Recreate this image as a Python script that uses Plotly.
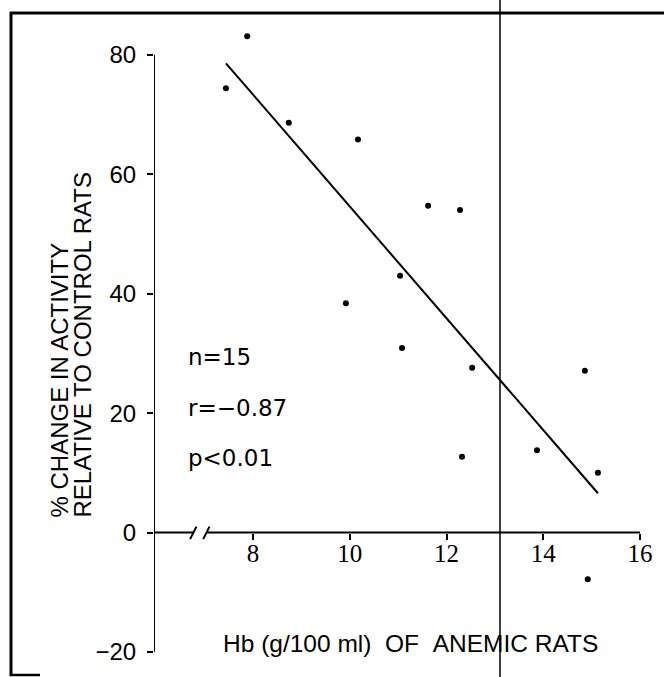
import numpy as np
import plotly.graph_objects as go

# Hemoglobin of anemic rats (g/100 ml) vs. % change in activity relative to controls
hb = [7.44, 7.88, 8.74, 10.17, 9.92, 11.04, 11.08, 11.62, 12.28,
      12.53, 12.32, 13.87, 14.86, 15.13, 14.92]
change = [74.4, 83.1, 68.6, 65.8, 38.4, 43.0, 30.9, 54.7, 54.0,
          27.6, 12.7, 13.8, 27.1, 10.0, -7.8]

x_ticks = [8, 10, 12, 14, 16]
y_ticks = [-20, 0, 20, 40, 60, 80]
stats_lines = ["n=15", "r=\u22120.87", "p<0.01"]

x_title = "Hb (g/100\u00a0ml)\u00a0\u00a0OF\u00a0\u00a0ANEMIC RATS"
y_title_1 = "% CHANGE IN ACTIVITY"
y_title_2 = "RELATIVE TO CONTROL RATS"

# least-squares regression line over the observed Hb range
slope, intercept = np.polyfit(hb, change, 1)
fit_x = np.array([min(hb), max(hb)])
fit_y = slope * fit_x + intercept

W, H = 664, 677
ML, MR, MT, MB = 154, 24, 7, 25
XR = [5.953, 16.0]
YR = [-20, 88]          # headroom above 80 so the top point is not culled
Y_AXIS_SPAN = [-20, 80]  # drawn extent of the y axis line


def px(xp):
    return (xp - ML) / (W - ML - MR)


def py(yp):
    return (H - MB - yp) / (H - MT - MB)


BLACK = "#000000"
sans = "Liberation Sans, Arial, Helvetica, sans-serif"
serif = "Liberation Serif, Times New Roman, serif"
stat_font = "DejaVu Sans, Verdana, sans-serif"

fig = go.Figure()

line_style = dict(color=BLACK, width=2)

# y axis line from -20 to 80
fig.add_trace(go.Scatter(x=[XR[0], XR[0]], y=Y_AXIS_SPAN, mode="lines",
                         line=line_style, cliponaxis=False,
                         hoverinfo="skip", showlegend=False))

# x axis line drawn at y = 0 with a scale break near the origin
fig.add_trace(go.Scatter(x=[XR[0], 6.78], y=[0, 0], mode="lines",
                         line=line_style, cliponaxis=False,
                         hoverinfo="skip", showlegend=False))
fig.add_trace(go.Scatter(x=[7.05, XR[1]], y=[0, 0], mode="lines",
                         line=line_style, cliponaxis=False,
                         hoverinfo="skip", showlegend=False))
for x0, x1 in [(6.70, 6.83), (6.97, 7.10)]:
    fig.add_shape(type="line", xref="x", yref="y", x0=x0, y0=-1.1, x1=x1, y1=1.0,
                  line=dict(color=BLACK, width=2))

# regression line
fig.add_trace(go.Scatter(x=fit_x, y=fit_y, mode="lines",
                         line=line_style, cliponaxis=False,
                         hoverinfo="skip", showlegend=False))

# individual rats
fig.add_trace(go.Scatter(x=hb, y=change, mode="markers",
                         marker=dict(color=BLACK, size=6), cliponaxis=False,
                         showlegend=False))

# statistics block
for i, s in enumerate(stats_lines):
    fig.add_annotation(text=s, xref="paper", yref="paper",
                       x=px(186), y=py(357 + 50.5 * i),
                       xanchor="left", yanchor="middle", showarrow=False,
                       font=dict(family=stat_font, size=23, color=BLACK))

# axis titles
fig.add_annotation(text=x_title, xref="paper", yref="paper",
                   x=px(221), y=py(643), xanchor="left", yanchor="middle",
                   showarrow=False, font=dict(family=sans, size=24.5, color=BLACK))
for txt, xc in [(y_title_1, 59), (y_title_2, 82)]:
    fig.add_annotation(text=txt, xref="paper", yref="paper", textangle=-90,
                       x=px(xc), y=py(520), xanchor="center", yanchor="bottom",
                       showarrow=False, font=dict(family=sans, size=24, color=BLACK))

# border around the figure
fig.add_shape(type="line", xref="paper", yref="paper", x0=px(11), x1=px(11),
              y0=py(12), y1=py(676), line=dict(color=BLACK, width=3))
fig.add_shape(type="line", xref="paper", yref="paper", x0=px(10), x1=px(664),
              y0=py(13), y1=py(13), line=dict(color=BLACK, width=3))
fig.add_shape(type="line", xref="paper", yref="paper", x0=px(10), x1=px(40),
              y0=py(675), y1=py(675), line=dict(color=BLACK, width=2.5))
# vertical rule across the page
fig.add_shape(type="line", xref="paper", yref="paper", x0=px(500), x1=px(500),
              y0=py(-5), y1=py(682), line=dict(color=BLACK, width=1.5))

fig.update_layout(
    width=W, height=H,
    margin=dict(l=ML, r=MR, t=MT, b=MB, pad=0),
    paper_bgcolor="white", plot_bgcolor="white",
    xaxis=dict(range=XR, tickvals=x_ticks, ticks="outside", ticklen=6,
               tickwidth=1.5, tickcolor=BLACK, showline=False, showgrid=False,
               zeroline=False, anchor="free",
               position=(0 - YR[0]) / (YR[1] - YR[0]),
               tickfont=dict(family=serif, size=25, color=BLACK),
               ticklabelstandoff=-8),
    yaxis=dict(range=YR, tickvals=y_ticks, ticks="outside", ticklen=6,
               tickwidth=1.5, tickcolor=BLACK, showline=False,
               showgrid=False, zeroline=False,
               tickfont=dict(family=sans, size=24, color=BLACK),
               ticklabelstandoff=6),
)

fig.write_html("out.html")
